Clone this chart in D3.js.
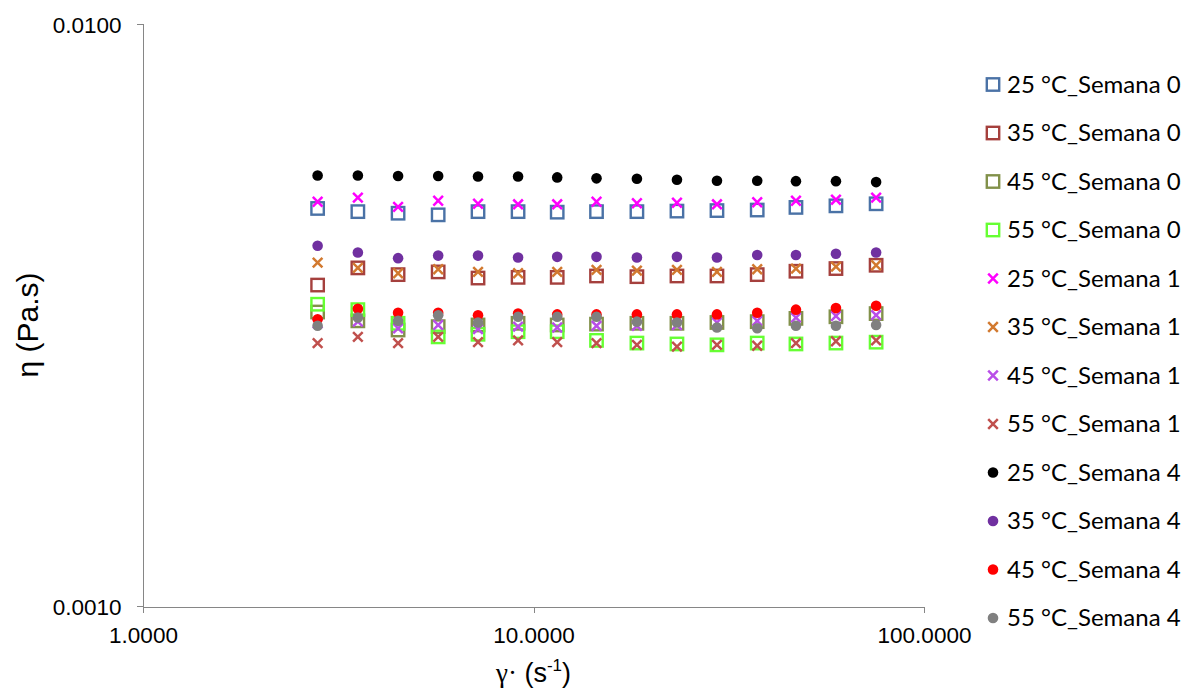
<!DOCTYPE html>
<html lang="es">
<head>
<meta charset="UTF-8">
<title>Viscosidad vs velocidad de corte</title>
<script src="https://cdnjs.cloudflare.com/ajax/libs/d3/7.8.5/d3.min.js"></script>
<style>
  body { margin: 0; background: #fff; }
  .axis path, .axis line { stroke: #868686; shape-rendering: crispEdges; }
  .axis text { font-family: "Liberation Sans", Arial, sans-serif; font-size: 22.5px; fill: #000; }
  .legend text { font-family: Lato, sans-serif; font-size: 24px; fill: #000; }
  .title { font-family: "Liberation Sans", Arial, sans-serif; fill: #000; }
</style>
</head>
<body>
<div id="chart"></div>
<script>
// shear rate (1/s)
const shearRate = [2.80, 3.55, 4.50, 5.70, 7.21, 9.13, 11.5, 14.5, 18.4, 23.3, 29.5, 37.4, 47.0, 59.5, 75.4];

// viscosity (Pa.s) per sample
const eta25_s0 = [0.00482, 0.00476, 0.00473, 0.00470, 0.00476, 0.00476, 0.00475, 0.00476, 0.00476, 0.00477, 0.00478, 0.00479, 0.00484, 0.00487, 0.00491];
const eta35_s0 = [0.00356, 0.00381, 0.00371, 0.00375, 0.00366, 0.00367, 0.00367, 0.00369, 0.00368, 0.00369, 0.00369, 0.00371, 0.00376, 0.00380, 0.00385];
const eta45_s0 = [0.00320, 0.00309, 0.00298, 0.00302, 0.00304, 0.00306, 0.00304, 0.00305, 0.00306, 0.00306, 0.00307, 0.00308, 0.00312, 0.00314, 0.00318];
const eta55_s0 = [0.00330, 0.00323, 0.00306, 0.00290, 0.00293, 0.00296, 0.00296, 0.00286, 0.00283, 0.00282, 0.00281, 0.00283, 0.00282, 0.00283, 0.00284];
const eta25_s1 = [0.00495, 0.00503, 0.00485, 0.00497, 0.00491, 0.00490, 0.00490, 0.00495, 0.00492, 0.00493, 0.00490, 0.00494, 0.00497, 0.00499, 0.00503];
const eta35_s1 = [0.00389, 0.00381, 0.00373, 0.00379, 0.00375, 0.00373, 0.00375, 0.00378, 0.00377, 0.00378, 0.00375, 0.00379, 0.00380, 0.00383, 0.00385];
const eta45_s1 = [0.00306, 0.00308, 0.00300, 0.00304, 0.00299, 0.00302, 0.00301, 0.00303, 0.00303, 0.00304, 0.00307, 0.00309, 0.00313, 0.00315, 0.00316];
const eta55_s1 = [0.00283, 0.00290, 0.00283, 0.00290, 0.00284, 0.00286, 0.00284, 0.00283, 0.00281, 0.00279, 0.00281, 0.00280, 0.00283, 0.00285, 0.00286];
const eta25_s4 = [0.00549, 0.00549, 0.00548, 0.00548, 0.00547, 0.00547, 0.00545, 0.00543, 0.00542, 0.00540, 0.00538, 0.00538, 0.00537, 0.00537, 0.00535];
const eta35_s4 = [0.00416, 0.00405, 0.00396, 0.00400, 0.00400, 0.00397, 0.00398, 0.00398, 0.00397, 0.00398, 0.00397, 0.00401, 0.00401, 0.00403, 0.00405];
const eta45_s4 = [0.00311, 0.00324, 0.00319, 0.00319, 0.00316, 0.00318, 0.00317, 0.00317, 0.00317, 0.00317, 0.00317, 0.00319, 0.00323, 0.00325, 0.00328];
const eta55_s4 = [0.00303, 0.00313, 0.00309, 0.00316, 0.00307, 0.00314, 0.00314, 0.00314, 0.00308, 0.00307, 0.00301, 0.00300, 0.00303, 0.00303, 0.00304];

const seriesNames = [
  "25 °C_Semana 0", "35 °C_Semana 0", "45 °C_Semana 0", "55 °C_Semana 0",
  "25 °C_Semana 1", "35 °C_Semana 1", "45 °C_Semana 1", "55 °C_Semana 1",
  "25 °C_Semana 4", "35 °C_Semana 4", "45 °C_Semana 4", "55 °C_Semana 4"
];
const seriesData = [eta25_s0, eta35_s0, eta45_s0, eta55_s0,
                    eta25_s1, eta35_s1, eta45_s1, eta55_s1,
                    eta25_s4, eta35_s4, eta45_s4, eta55_s4];

const xTicks = [1, 10, 100];
const yTicks = [0.001, 0.01];

// marker style for each series
const seriesShape = ["square", "square", "square", "square",
                     "x", "x", "x", "x",
                     "circle", "circle", "circle", "circle"];
const seriesColor = ["#4a72a6", "#a5403d", "#82914a", "#66ff33",
                     "#ff00ff", "#d2792f", "#b94ee8", "#c0504d",
                     "#000000", "#7030a0", "#ff0000", "#808080"];

const width = 1186, height = 693;
const plot = {left: 143, right: 924, top: 24, bottom: 606};

const svg = d3.select("#chart").append("svg")
    .attr("width", width)
    .attr("height", height);

const x = d3.scaleLog().domain([1, 100]).range([plot.left, plot.right]);
const y = d3.scaleLog().domain([0.001, 0.01]).range([plot.bottom, plot.top]);

svg.append("g")
    .attr("class", "axis")
    .attr("transform", `translate(${plot.left - 0.5},0)`)
    .call(d3.axisLeft(y).tickValues(yTicks).tickFormat(d3.format(".4f"))
        .tickSizeOuter(0).tickSize(6).tickPadding(15))
    .selectAll("text").attr("dy", "0.36em");

svg.append("g")
    .attr("class", "axis")
    .attr("transform", `translate(0,${plot.bottom + 0.5})`)
    .call(d3.axisBottom(x).tickValues(xTicks).tickFormat(d3.format(".4f"))
        .tickSizeOuter(0).tickSize(6).tickPadding(15));

// draw one marker at (cx, cy)
function marker(g, shape, color, cx, cy) {
  if (shape === "square") {
    g.append("rect")
      .attr("x", cx - 6.2).attr("y", cy - 6.2)
      .attr("width", 12.4).attr("height", 12.4)
      .attr("fill", "none").attr("stroke", color).attr("stroke-width", 2.4);
  } else if (shape === "x") {
    const h = 4.8;
    g.append("path")
      .attr("d", `M${cx - h},${cy - h}L${cx + h},${cy + h}M${cx - h},${cy + h}L${cx + h},${cy - h}`)
      .attr("fill", "none").attr("stroke", color).attr("stroke-width", 2.5);
  } else {
    g.append("circle")
      .attr("cx", cx).attr("cy", cy).attr("r", 5.3)
      .attr("fill", color);
  }
}

const points = svg.append("g");
seriesData.forEach((vals, s) => {
  const g = points.append("g");
  vals.forEach((v, i) => marker(g, seriesShape[s], seriesColor[s], x(shearRate[i]), y(v)));
});

// legend
const legend = svg.append("g").attr("class", "legend");
seriesNames.forEach((name, s) => {
  const cy = 84.5 + s * 48.5;
  const g = legend.append("g");
  marker(g, seriesShape[s], seriesColor[s], 993, cy);
  g.append("text")
    .attr("x", 1007)
    .attr("y", cy + 8.3)
    .text(name);
});

// axis titles
const xt = svg.append("text")
    .attr("class", "title")
    .attr("x", (plot.left + plot.right) / 2)
    .attr("y", 682)
    .attr("text-anchor", "middle")
    .style("font-size", "27px");
xt.append("tspan").style("font-family", "'Liberation Serif', serif").text("γ·");
xt.append("tspan").text(" (s");
xt.append("tspan").attr("dy", -11).style("font-size", "17px").text("-1");
xt.append("tspan").attr("dy", 11).text(")");

svg.append("text")
    .attr("class", "title")
    .attr("transform", `translate(38,${(plot.top + plot.bottom) / 2 + 10}) rotate(-90)`)
    .attr("text-anchor", "middle")
    .style("font-size", "30px")
    .text("η (Pa.s)");
</script>
</body>
</html>
